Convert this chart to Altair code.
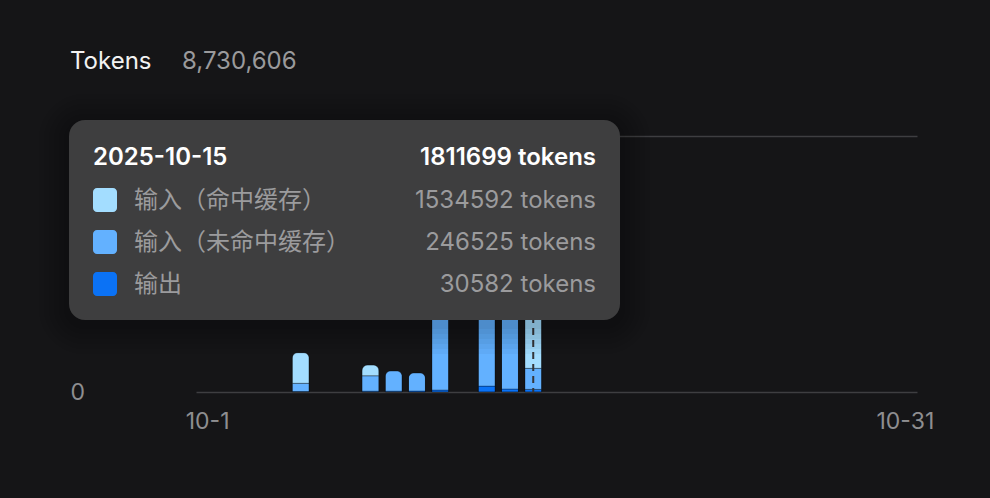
import altair as alt
import pandas as pd

# ---------------- data ----------------
days = [f"10-{d}" for d in range(1, 32)]
series = ["输入（命中缓存）", "输入（未命中缓存）", "输出"]
colors = ["#a3ddff", "#63b1ff", "#0b72f5"]

cache_hit = [0, 0, 0, 0, 360000, 0, 0, 127000, 0, 0, 0, 0, 0, 0, 1534592] + [0] * 16
cache_miss = [0, 0, 0, 0, 97000, 0, 0, 180000, 238000, 213000, 1450000, 0, 2380000, 1709907, 246525] + [0] * 16
output = [0, 0, 0, 0, 5000, 0, 0, 10000, 10000, 12000, 23000, 0, 69000, 35000, 30582] + [0] * 16

y_ticks = [0, 3000000]
x_ticks = ["10-1", "10-31"]
hover_day = "10-15"
hover_date = "2025-10-15"

# ---------------- build tables ----------------
rows = []
for i, d in enumerate(days):
    for rank, (name, vals) in enumerate(zip(series[::-1], [output, cache_miss, cache_hit])):
        if vals[i] > 0:
            rows.append({"day": d, "series": name, "tokens": vals[i], "rank": rank})
df = pd.DataFrame(rows)

grand_total = sum(cache_hit) + sum(cache_miss) + sum(output)
hi = days.index(hover_day)
hover_vals = [cache_hit[hi], cache_miss[hi], output[hi]]
hover_total = sum(hover_vals)

FONT = "Inter, 'Noto Sans CJK SC', sans-serif"
W, H = 721, 256
FS = 24

# ---------------- bars ----------------
bars = alt.Chart(df).mark_bar(
    cornerRadiusTopLeft=6, cornerRadiusTopRight=6,
    stroke="#000000", strokeOpacity=0.3, strokeWidth=1,
).encode(
    x=alt.X("day:N", sort=days,
            scale=alt.Scale(domain=days, paddingInner=0.27, paddingOuter=0.135),
            axis=alt.Axis(values=x_ticks, title=None, domain=False, ticks=False, tickSize=0,
                          labelPadding=18, labelFontSize=FS - 1, labelColor="#8e8e90",
                          labelFont=FONT, labelAngle=0, grid=False)),
    y=alt.Y("tokens:Q", stack="zero",
            scale=alt.Scale(domain=[0, 3000000], nice=False),
            axis=alt.Axis(values=y_ticks, title=None, domain=False, ticks=False, tickSize=0,
                          labelExpr="datum.value == 0 ? '0' : format(datum.value, '~s')",
                          labelAlign="left", labelPadding=126,
                          labelFontSize=FS - 1, labelColor="#8e8e90", labelFont=FONT,
                          grid=True, gridColor="#3e3e41", gridWidth=1.5)),
    color=alt.Color("series:N", scale=alt.Scale(domain=series, range=colors), legend=None),
    order=alt.Order("rank:Q", sort="ascending"),
)

rule = alt.Chart(pd.DataFrame({"day": [hover_day]})).mark_rule(
    color="#353538", strokeWidth=2, strokeDash=[7, 5]
).encode(
    x=alt.X("day:N", sort=days, bandPosition=0.5),
    y=alt.value(0), y2=alt.value(H),
)

one = pd.DataFrame({"a": [0]})

def rect(x1, x2, y1, y2, fill, opacity=1.0, radius=16):
    return alt.Chart(one).mark_rect(fill=fill, opacity=opacity, cornerRadius=radius).encode(
        x=alt.value(x1), x2=alt.value(x2), y=alt.value(y1), y2=alt.value(y2))

def text(t, x, y, size=FS, color="#9b9b9d", weight="normal", align="left"):
    return alt.Chart(pd.DataFrame({"t": [t]})).mark_text(
        font=FONT, fontSize=size, color=color, fontWeight=weight, align=align, baseline="middle"
    ).encode(x=alt.value(x), y=alt.value(y), text="t:N")

# tooltip box (plot coords: origin at 196,136)
bx1, bx2, by1, by2 = -127, 424, -16, 184
layers = [bars, rule]
for k in [30, 25, 20, 15, 10, 5]:
    layers.append(rect(bx1 - k, bx2 + k, by1 - k + 4, by2 + k + 4, "#000000", 0.035, 16 + k))
layers.append(rect(bx1, bx2, by1, by2, "#3e3e3f"))

layers.append(text(hover_date, -103, 22, color="#ffffff", weight=600))
layers.append(text(f"{hover_total} tokens", 400, 22, color="#ffffff", weight=600, align="right"))
for j, (name, col, v) in enumerate(zip(series, colors, hover_vals)):
    yc = 64 + 42 * j
    layers.append(rect(-103, -79, yc - 12, yc + 12, col, 1.0, 4))
    layers.append(text(name, -62, yc + 1))
    layers.append(text(f"{v} tokens", 400, yc + 1, align="right"))

# header
layers.append(text("Tokens", -126, -74, color="#f2f2f2"))
layers.append(text(f"{grand_total:,}", -14, -74, color="#9a9a9c"))

chart = alt.layer(*layers).properties(
    width=W, height=H,
    autosize=alt.AutoSizeParams(type="none"),
    padding={"left": 196, "top": 136, "right": 73, "bottom": 106},
).configure(
    background="#151517",
).configure_view(stroke=None)

chart.save("out.html", embed_options={"renderer": "svg", "actions": False})
